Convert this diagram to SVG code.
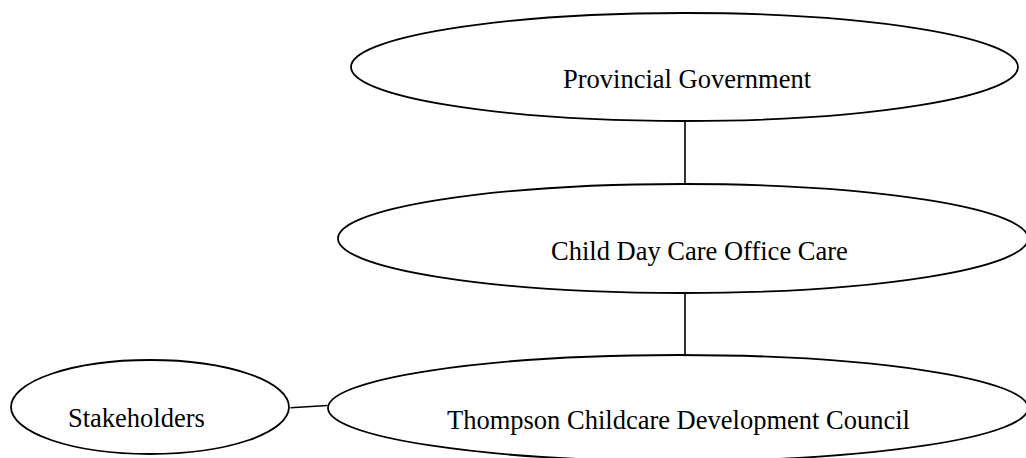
<svg xmlns="http://www.w3.org/2000/svg" width="1026" height="458" viewBox="0 0 1026 458">
  <style>
    .node ellipse { fill: #ffffff; stroke: #000000; stroke-width: 1.8; }
    .node text { font-family: "Liberation Serif", "Times New Roman", serif; font-size: 26.5px; fill: #000000; }
    .link { stroke: #000000; stroke-width: 1.6; fill: none; }
  </style>
  <rect width="1026" height="458" fill="#ffffff"/>

  <g id="connectors">
    <line class="link" x1="685" y1="121" x2="685" y2="184"/>
    <line class="link" x1="685" y1="293" x2="685" y2="355"/>
    <line class="link" x1="290.5" y1="407.7" x2="327.5" y2="405.5"/>
  </g>

  <g id="provincial-government" class="node">
    <ellipse cx="684.5" cy="67" rx="333.5" ry="54"/>
    <text x="563" y="88">Provincial Government</text>
  </g>

  <g id="child-day-care-office" class="node">
    <ellipse cx="683" cy="238.5" rx="345" ry="54.5"/>
    <text x="551" y="259.5">Child Day Care Office Care</text>
  </g>

  <g id="thompson-council" class="node">
    <ellipse cx="678" cy="408" rx="350" ry="53"/>
    <text x="447" y="429">Thompson Childcare Development Council</text>
  </g>

  <g id="stakeholders" class="node">
    <ellipse cx="150" cy="407" rx="139" ry="47"/>
    <text x="68" y="427">Stakeholders</text>
  </g>
</svg>
